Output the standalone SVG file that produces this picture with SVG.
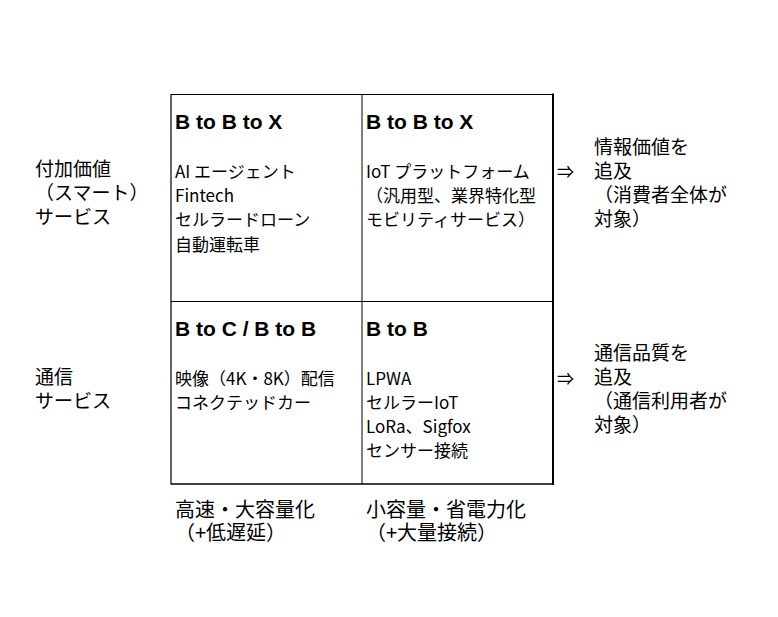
<svg xmlns="http://www.w3.org/2000/svg" width="778" height="617" viewBox="0 0 778 617">
<style>
.t{font-family:"Noto Sans CJK JP","Liberation Sans",sans-serif;fill:#000}
.s{font-size:17px}
.m{font-size:19px}
.l{font-size:20px}
.h{font-family:"Liberation Sans","Noto Sans CJK JP",sans-serif;font-weight:bold;font-size:21px;fill:#000}
.ln{stroke:#000;fill:none}
</style>
<rect width="778" height="617" fill="#fff"/>
<g id="grid">
<line class="ln" x1="171" y1="94.5" x2="553" y2="94.5" stroke-width="1.2"/>
<line class="ln" x1="171" y1="94" x2="171" y2="484.5" stroke-width="1.2"/>
<line class="ln" x1="553" y1="93.5" x2="553" y2="485" stroke-width="2"/>
<line class="ln" x1="171" y1="484" x2="554" y2="484" stroke-width="1.6"/>
<line class="ln" x1="362" y1="94.5" x2="362" y2="484" stroke-width="1"/>
<line class="ln" x1="171" y1="301.5" x2="553" y2="301.5" stroke-width="1"/>
</g>
<g id="cell-top-left">
<text class="h" x="175" y="129">B to B to X</text>
<text class="t s"><tspan x="175" y="178">AI エージェント</tspan><tspan x="175" y="202.2">Fintech</tspan><tspan x="175" y="226.4">セルラードローン</tspan><tspan x="175" y="250.6">自動運転車</tspan></text>
</g>
<g id="cell-top-right">
<text class="h" x="366" y="129">B to B to X</text>
<text class="t s"><tspan x="366" y="178">IoT プラットフォーム</tspan><tspan x="366" y="202.2">（汎用型、業界特化型</tspan><tspan x="366" y="226.4">モビリティサービス）</tspan></text>
</g>
<g id="cell-bottom-left">
<text class="h" x="175" y="336">B to C / B to B</text>
<text class="t s"><tspan x="175" y="384.5">映像（4K・8K）配信</tspan><tspan x="175" y="408.5">コネクテッドカー</tspan></text>
</g>
<g id="cell-bottom-right">
<text class="h" x="366" y="336">B to B</text>
<text class="t s"><tspan x="366" y="384.5">LPWA</tspan><tspan x="366" y="408.5">セルラーIoT</tspan><tspan x="366" y="432.5">LoRa、Sigfox</tspan><tspan x="366" y="456.5">センサー接続</tspan></text>
</g>
<g id="label-left-top">
<text class="t m"><tspan x="35" y="176">付加価値</tspan><tspan x="35" y="200">（スマート）</tspan><tspan x="35" y="224">サービス</tspan></text>
</g>
<g id="label-left-bottom">
<text class="t m"><tspan x="35" y="384">通信</tspan><tspan x="35" y="408">サービス</tspan></text>
</g>
<g id="connectors">
<text class="t s" x="557" y="178">⇒</text>
<text class="t s" x="557" y="385">⇒</text>
</g>
<g id="label-right-top">
<text class="t m"><tspan x="594" y="154">情報価値を</tspan><tspan x="594" y="178">追及</tspan><tspan x="594" y="202">（消費者全体が</tspan><tspan x="594" y="226">対象）</tspan></text>
</g>
<g id="label-right-bottom">
<text class="t m"><tspan x="594" y="360">通信品質を</tspan><tspan x="594" y="384">追及</tspan><tspan x="594" y="408">（通信利用者が</tspan><tspan x="594" y="432">対象）</tspan></text>
</g>
<g id="label-bottom-left">
<text class="t l"><tspan x="175" y="516.5">高速・大容量化</tspan><tspan x="175" y="540">（+低遅延）</tspan></text>
</g>
<g id="label-bottom-right">
<text class="t l"><tspan x="366" y="516.5">小容量・省電力化</tspan><tspan x="366" y="540">（+大量接続）</tspan></text>
</g>
</svg>
